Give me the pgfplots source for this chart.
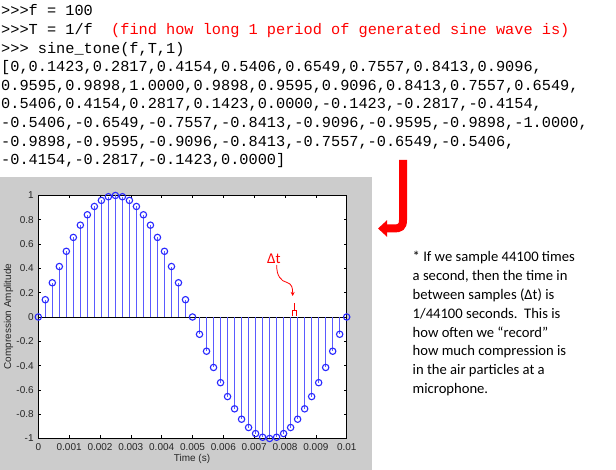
\documentclass[border=0pt]{standalone}
\usepackage{pgfplots}
\pgfplotsset{compat=1.18}
\usepackage{fontspec}
\setmainfont{Liberation Sans}
\newfontfamily\codefont{Liberation Mono}
\newfontfamily\notefont{Carlito}
\usetikzlibrary{arrows.meta}
\definecolor{stemline}{RGB}{90,90,255}
\definecolor{stemmark}{RGB}{40,40,255}
\definecolor{boxgray}{RGB}{204,204,204}
\definecolor{myred}{RGB}{255,0,0}
\newcommand\pr{>\kern0pt>\kern0pt>}
\pgfplotstableread{
x y
0 0
0.000227273 0.1423
0.000454545 0.2817
0.000681818 0.4154
0.000909091 0.5406
0.001136364 0.6549
0.001363636 0.7557
0.001590909 0.8413
0.001818182 0.9096
0.002045455 0.9595
0.002272727 0.9898
0.0025 1.0000
0.002727273 0.9898
0.002954545 0.9595
0.003181818 0.9096
0.003409091 0.8413
0.003636364 0.7557
0.003863636 0.6549
0.004090909 0.5406
0.004318182 0.4154
0.004545455 0.2817
0.004772727 0.1423
0.005 0.0000
0.005227273 -0.1423
0.005454545 -0.2817
0.005681818 -0.4154
0.005909091 -0.5406
0.006136364 -0.6549
0.006363636 -0.7557
0.006590909 -0.8413
0.006818182 -0.9096
0.007045455 -0.9595
0.007272727 -0.9898
0.0075 -1.0000
0.007727273 -0.9898
0.007954545 -0.9595
0.008181818 -0.9096
0.008409091 -0.8413
0.008636364 -0.7557
0.008863636 -0.6549
0.009090909 -0.5406
0.009318182 -0.4154
0.009545455 -0.2817
0.009772727 -0.1423
0.01 0.0000
}\sinedata
\begin{document}
\begin{tikzpicture}[x=1bp,y=1bp]
\path[use as bounding box] (0,0) rectangle (616,470);
\fill[boxgray] (0,0) rectangle (372,293);
\begin{axis}[at={(38.3bp,31.5bp)}, anchor=south west, scale only axis,
  width=308.4bp, height=243bp,
  xmin=0, xmax=0.01, ymin=-1, ymax=1, clip=false,
  scaled x ticks=false, scaled y ticks=false,
  axis background/.style={fill=white},
  tick align=inside, major tick length=3bp,
  xtick={0,0.001,0.002,0.003,0.004,0.005,0.006,0.007,0.008,0.009,0.01},
  xticklabels={0,0.001,0.002,0.003,0.004,0.005,0.006,0.007,0.008,0.009,0.01},
  ytick={-1,-0.8,-0.6,-0.4,-0.2,0,0.2,0.4,0.6,0.8,1},
  yticklabels={-1,-0.8,-0.6,-0.4,-0.2,0,0.2,0.4,0.6,0.8,1},
  tick style={black, line width=0.6bp},
  axis line style={line width=0.8bp},
  ticklabel style={font=\fontsize{10}{10}\selectfont, text=black!85, inner sep=0pt},
  xticklabel style={yshift=-4.5bp},
  yticklabel style={xshift=-4.5bp},
]
\addplot[black, line width=0.8bp, forget plot] coordinates {(0,0) (0.01,0)};
\addplot[ycomb, color=stemline, line width=1.2bp, mark=o, mark size=3.2bp,
  mark options={draw=stemmark, line width=1.1bp}] table[x=x,y=y] {\sinedata};
\end{axis}
\node[font=\fontsize{10}{10}\selectfont, text=black!85] at (192,11) {Time (s)};
\node[rotate=90, font=\fontsize{10}{10}\selectfont, text=black!85] at (8.5,153.5) {Compression Amplitude};
% delta t annotation
\node[anchor=base west, inner sep=0pt, text=myred, font=\notefont\fontsize{15}{15}\selectfont] at (267,206.5) {Δt};
\draw[myred, line width=0.8bp, -{Stealth[length=4bp,width=4bp]}] (276.7,205) .. controls (276.5,194) and (281,189) .. (287,187.5) .. controls (292,186) and (292.7,182) .. (292.7,174);
\draw[myred, line width=0.9bp] (292,153.5) -- (292,160) -- (296,160) -- (296,153.5);
\draw[myred, line width=0.9bp] (294,160) -- (294,167);
% big arrow
\draw[myred, line width=8bp, -{Triangle[length=9bp,width=16bp]}] (403,310) -- (403,250) .. controls (403,243) and (400,241.5) .. (394,241.5) -- (378,241.5);
% code text
\begin{scope}[every node/.style={anchor=base west, inner sep=0pt, font=\codefont\fontsize{15.33}{15.33}\selectfont}]
\node at (1,454) {\pr f = 100};
\node at (1,435.4) {\pr T = 1/f\ \ \textcolor{myred}{(find how long 1 period of generated sine wave is)}};
\node at (1,416.8) {\pr{} sine\_tone(f,T,1)};
\node at (1,398.2) {[0,0.1423,0.2817,0.4154,0.5406,0.6549,0.7557,0.8413,0.9096,};
\node at (1,379.6) {0.9595,0.9898,1.0000,0.9898,0.9595,0.9096,0.8413,0.7557,0.6549,};
\node at (1,361) {0.5406,0.4154,0.2817,0.1423,0.0000,-0.1423,-0.2817,-0.4154,};
\node at (1,342.4) {-0.5406,-0.6549,-0.7557,-0.8413,-0.9096,-0.9595,-0.9898,-1.0000,};
\node at (1,323.8) {-0.9898,-0.9595,-0.9096,-0.8413,-0.7557,-0.6549,-0.5406,};
\node at (1,305.2) {-0.4154,-0.2817,-0.1423,0.0000]};
\end{scope}
% note text
\begin{scope}[every node/.style={anchor=base west, inner sep=0pt, font=\notefont\fontsize{14.67}{14.67}\selectfont}]
\node at (412.5,208) {* If we sample 44100 times};
\node at (412.5,189.2) {a second, then the time in};
\node at (412.5,170.4) {between samples (Δt) is};
\node at (412.5,151.6) {1/44100 seconds.\ \ This is};
\node at (412.5,132.8) {how often we “record”};
\node at (412.5,114) {how much compression is};
\node at (412.5,95.2) {in the air particles at a};
\node at (412.5,76.4) {microphone.};
\end{scope}
\end{tikzpicture}
\end{document}
